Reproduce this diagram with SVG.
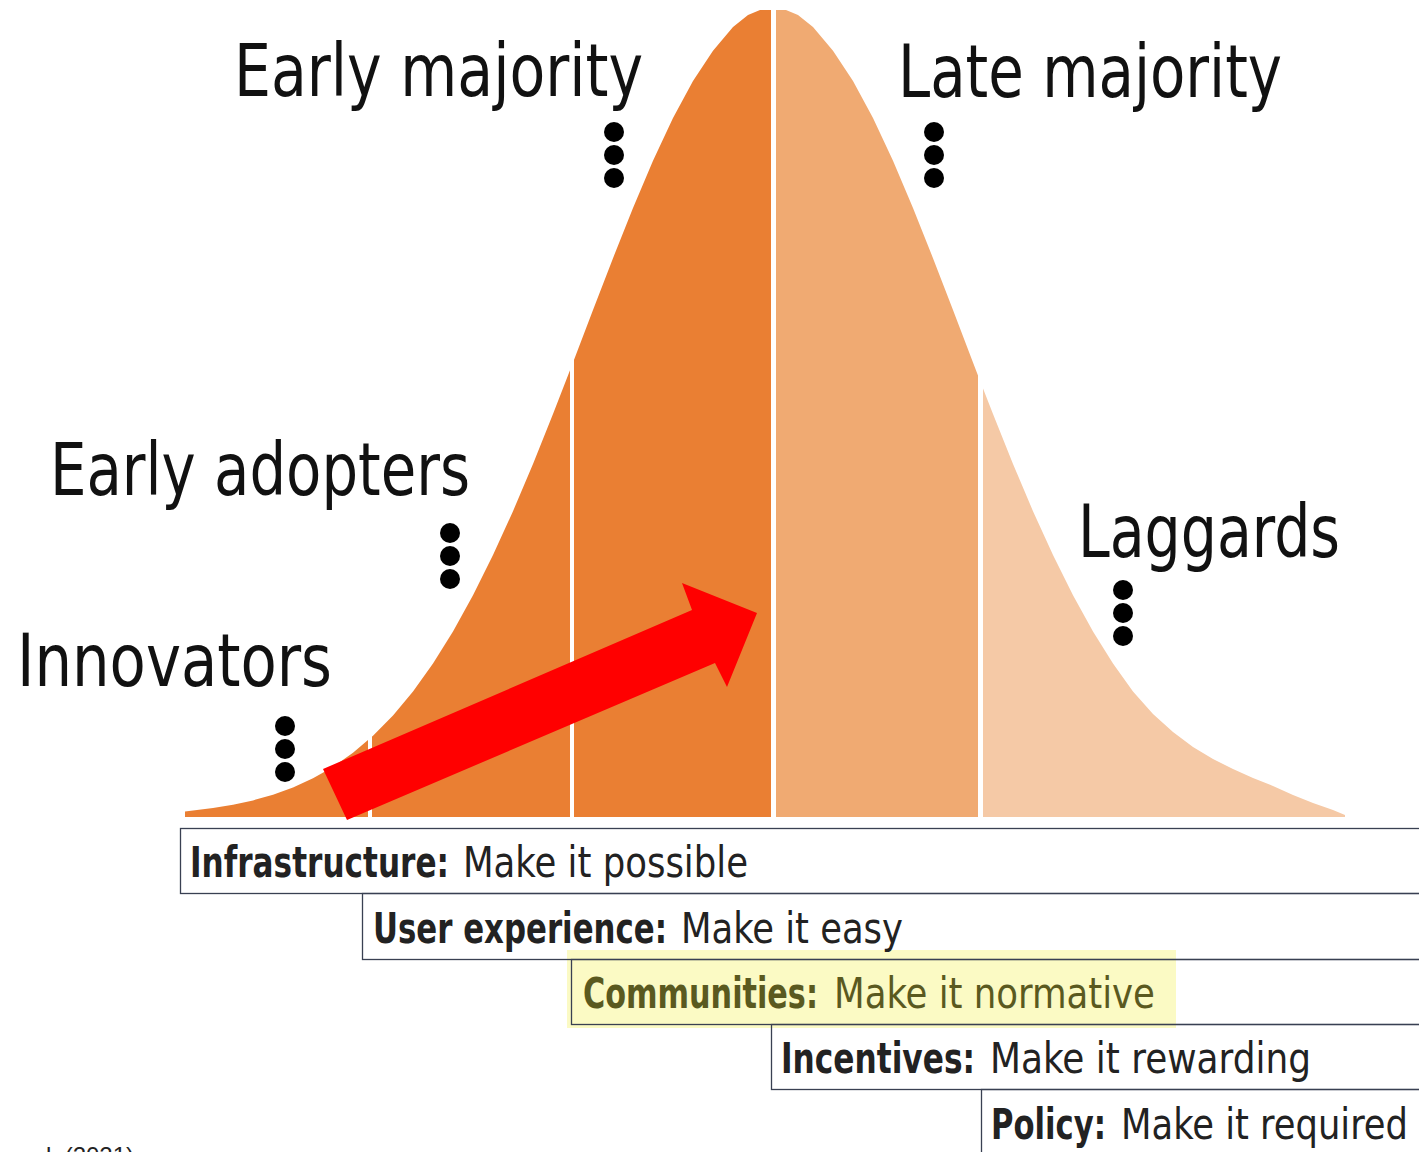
<svg xmlns="http://www.w3.org/2000/svg" width="1419" height="1152" viewBox="0 0 1419 1152">
<style>
.lbl{font-family:'DejaVu Sans Condensed','DejaVu Sans','Liberation Sans',sans-serif;font-stretch:condensed;font-size:73px;fill:#111}
.bt{font-family:'DejaVu Sans Condensed','DejaVu Sans','Liberation Sans',sans-serif;font-stretch:condensed;font-size:43px;fill:#222}
.b{font-weight:bold}
.olive{fill:#5a591f}
.bx{fill:none;stroke:#394052;stroke-width:1.3}
.dot{fill:#000}
.sep{fill:#fff}
</style>
<defs>
<path id="bell" d="M185,817 L185,811.4 L213,808.1 L233,804.7 L253,800.4 L273,794.7 L293,787.5 L313,778.3 L333,766.9 L353,752.8 L373,735.8 L393,715.5 L413,691.4 L433,663.5 L453,631.5 L473,595.3 L493,555.1 L513,511.2 L533,464 L553,414.1 L573,362.6 L593,310.1 L613,258.2 L633,207.9 L653,160.7 L673,117.9 L693,80.9 L713,50.7 L733,27 L748,15 L760,10 L786,10 L798,15 L813,27 L833,50.7 L853,80.9 L873,117.9 L893,160.7 L913,207.9 L933,258.2 L953,310.1 L973,362.6 L993,414.1 L1013,464 L1033,511.2 L1053,555.1 L1073,595.3 L1093,631.5 L1113,663.5 L1133,691.4 L1153,714 L1173,732 L1193,747 L1213,759 L1233,769 L1253,778 L1273,786 L1293,795 L1313,803 L1333,810 L1345,815 L1345,817 Z"/>
<clipPath id="cDark"><rect x="180" y="0" width="591" height="818"/></clipPath>
<clipPath id="cLate"><rect x="771" y="0" width="209" height="818"/></clipPath>
<clipPath id="cLag"><rect x="980" y="0" width="380" height="818"/></clipPath>
</defs>
<rect x="0" y="0" width="1419" height="1152" fill="#fff"/>

<g id="curve">
<use href="#bell" fill="#ea7f33" clip-path="url(#cDark)"/>
<use href="#bell" fill="#f0aa72" clip-path="url(#cLate)"/>
<use href="#bell" fill="#f5c9a6" clip-path="url(#cLag)"/>
<rect class="sep" x="368" y="600" width="4" height="220"/>
<rect class="sep" x="570" y="300" width="4" height="520"/>
<rect class="sep" x="771" y="0" width="5" height="820"/>
<rect class="sep" x="978" y="300" width="5" height="520"/>
</g>

<g id="innovators">
<text class="lbl" x="17" y="686" textLength="315" lengthAdjust="spacingAndGlyphs">Innovators</text>
<circle class="dot" cx="285" cy="726" r="10"/><circle class="dot" cx="285" cy="749" r="10"/><circle class="dot" cx="285" cy="772" r="10"/>
</g>
<g id="early-adopters">
<text class="lbl" x="50" y="495" textLength="420" lengthAdjust="spacingAndGlyphs">Early adopters</text>
<circle class="dot" cx="450" cy="533" r="10"/><circle class="dot" cx="450" cy="556" r="10"/><circle class="dot" cx="450" cy="579" r="10"/>
</g>
<g id="early-majority">
<text class="lbl" x="234" y="96" textLength="409" lengthAdjust="spacingAndGlyphs">Early majority</text>
<circle class="dot" cx="614" cy="132" r="10"/><circle class="dot" cx="614" cy="155" r="10"/><circle class="dot" cx="614" cy="178" r="10"/>
</g>
<g id="late-majority">
<text class="lbl" x="898" y="97" textLength="384" lengthAdjust="spacingAndGlyphs">Late majority</text>
<circle class="dot" cx="934" cy="132" r="10"/><circle class="dot" cx="934" cy="155" r="10"/><circle class="dot" cx="934" cy="178" r="10"/>
</g>
<g id="laggards">
<text class="lbl" x="1078" y="557" textLength="262" lengthAdjust="spacingAndGlyphs">Laggards</text>
<circle class="dot" cx="1123" cy="590" r="10"/><circle class="dot" cx="1123" cy="613" r="10"/><circle class="dot" cx="1123" cy="636" r="10"/>
</g>

<g id="connectors">
<polygon points="323,769 692,610 682,583 757,613 727,687 715,663 347,820" fill="#ff0000"/>
</g>

<rect id="highlight" x="567" y="950" width="609" height="78" fill="#fbfac4"/>

<g id="box-infrastructure">
<rect class="bx" x="180.5" y="828.5" width="1260" height="65"/>
<text class="bt" transform="scale(0.72,1)" y="877"><tspan class="b" x="263.89" textLength="359.72" lengthAdjust="spacingAndGlyphs">Infrastructure:</tspan><tspan x="643.06" textLength="395.83" lengthAdjust="spacingAndGlyphs">Make it possible</tspan></text>
</g>
<g id="box-user-experience">
<rect class="bx" x="362.5" y="893.5" width="1080" height="66"/>
<text class="bt" transform="scale(0.72,1)" y="943"><tspan class="b" x="518.06" textLength="408.33" lengthAdjust="spacingAndGlyphs">User experience:</tspan><tspan x="945.83" textLength="308.33" lengthAdjust="spacingAndGlyphs">Make it easy</tspan></text>
</g>
<g id="box-communities">
<rect class="bx" x="571.5" y="959.5" width="880" height="65"/>
<text class="bt olive" transform="scale(0.72,1)" y="1008"><tspan class="b" x="809.72" textLength="326.39" lengthAdjust="spacingAndGlyphs">Communities:</tspan><tspan x="1158.33" textLength="445.83" lengthAdjust="spacingAndGlyphs">Make it normative</tspan></text>
</g>
<g id="box-incentives">
<rect class="bx" x="771.5" y="1024.5" width="680" height="65"/>
<text class="bt" transform="scale(0.72,1)" y="1073"><tspan class="b" x="1084.72" textLength="269.44" lengthAdjust="spacingAndGlyphs">Incentives:</tspan><tspan x="1375" textLength="445.83" lengthAdjust="spacingAndGlyphs">Make it rewarding</tspan></text>
</g>
<g id="box-policy">
<rect class="bx" x="981.5" y="1089.5" width="480" height="80"/>
<text class="bt" transform="scale(0.72,1)" y="1139"><tspan class="b" x="1376.39" textLength="159.72" lengthAdjust="spacingAndGlyphs">Policy:</tspan><tspan x="1556.94" textLength="398.61" lengthAdjust="spacingAndGlyphs">Make it required</tspan></text>
</g>

<text x="46" y="1164" font-family="'Liberation Sans',Arial,sans-serif" font-size="24" fill="#222">l. (2021)</text>
</svg>
